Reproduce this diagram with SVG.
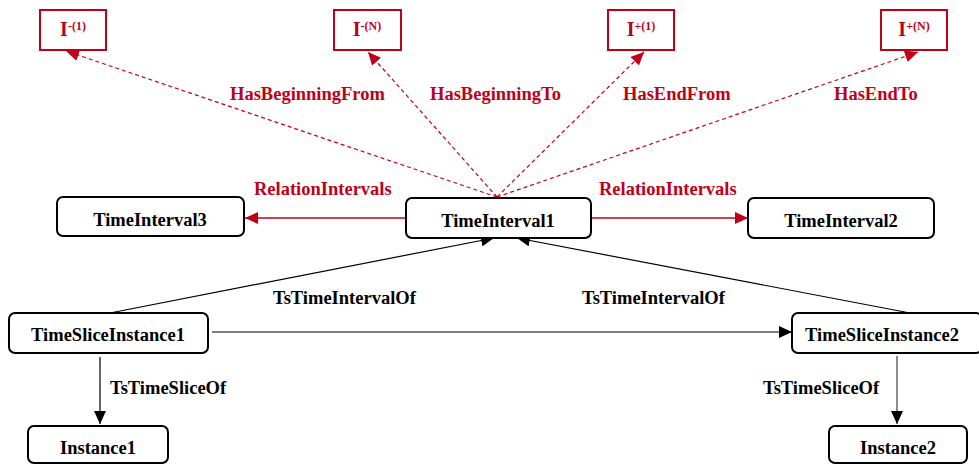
<svg xmlns="http://www.w3.org/2000/svg" width="979" height="464" viewBox="0 0 979 464">
<defs>
<style>
text{font-family:"Liberation Serif","Times New Roman",serif;font-weight:bold;font-size:18.5px}
.node{fill:#fff;stroke:#000;stroke-width:2}
.rbox{fill:#fff;stroke:#c00018;stroke-width:2}
.red{fill:#c00018}
.blk{fill:#000}
.big{font-size:20px}
.lr{stroke:#c00018;stroke-width:1.3;fill:none}
.ld{stroke:#c00018;stroke-width:1.2;fill:none;stroke-dasharray:4 3}
.lb{stroke:#000;stroke-width:1.2;fill:none}
.lg{stroke:#666;stroke-width:1.5;fill:none}
.sup{font-size:12px}
</style>
<marker id="ar" markerUnits="userSpaceOnUse" markerWidth="14" markerHeight="12" refX="13" refY="6" orient="auto"><path d="M0,0 L13,6 L0,12 Z" fill="#c00018"/></marker>
<marker id="ab" markerUnits="userSpaceOnUse" markerWidth="14" markerHeight="12" refX="13" refY="6" orient="auto"><path d="M0,0 L13,6 L0,12 Z" fill="#000"/></marker>
</defs>
<rect width="979" height="464" fill="#fff"/>
<g id="connectors">
<line class="ld" x1="497" y1="197" x2="66" y2="51" marker-end="url(#ar)"/>
<line class="ld" x1="497" y1="197" x2="368" y2="52" marker-end="url(#ar)"/>
<line class="ld" x1="497" y1="197" x2="644" y2="52" marker-end="url(#ar)"/>
<line class="ld" x1="497" y1="197" x2="918" y2="52" marker-end="url(#ar)"/>
<line class="lr" x1="405" y1="218" x2="245" y2="218" marker-end="url(#ar)"/>
<line class="lr" x1="592" y1="218" x2="748" y2="218" marker-end="url(#ar)"/>
<line class="lb" x1="110" y1="313" x2="494" y2="238" marker-end="url(#ab)"/>
<line class="lb" x1="910" y1="313" x2="517" y2="238" marker-end="url(#ab)"/>
<line class="lb" x1="212" y1="332" x2="792" y2="332" marker-end="url(#ab)"/>
<line class="lb" x1="100" y1="357" x2="100" y2="424" marker-end="url(#ab)"/>
<line class="lg" x1="897" y1="356" x2="897" y2="424" marker-end="url(#ab)"/>
<text class="red" x="230" y="100">HasBeginningFrom</text>
<text class="red" x="430" y="100">HasBeginningTo</text>
<text class="red" x="623" y="100">HasEndFrom</text>
<text class="red" x="834" y="100">HasEndTo</text>
<text class="red" x="254" y="195">RelationIntervals</text>
<text class="red" x="599" y="195">RelationIntervals</text>
<text class="blk" x="273" y="304">TsTimeIntervalOf</text>
<text class="blk" x="582" y="304">TsTimeIntervalOf</text>
<text class="blk" x="110" y="394">TsTimeSliceOf</text>
<text class="blk" x="763" y="394">TsTimeSliceOf</text>
</g>
<g id="I-1"><rect class="rbox" x="40" y="10" width="66" height="40"/><text class="red big" x="73" y="36" text-anchor="middle">I<tspan class="sup" dy="-6">-(1)</tspan></text></g>
<g id="I-N"><rect class="rbox" x="334" y="10" width="67" height="40"/><text class="red big" x="367" y="36" text-anchor="middle">I<tspan class="sup" dy="-6">-(N)</tspan></text></g>
<g id="Iplus1"><rect class="rbox" x="608" y="10" width="66" height="40"/><text class="red big" x="641" y="36" text-anchor="middle">I<tspan class="sup" dy="-6">+(1)</tspan></text></g>
<g id="IplusN"><rect class="rbox" x="881" y="10" width="66" height="40"/><text class="red big" x="914" y="36" text-anchor="middle">I<tspan class="sup" dy="-6">+(N)</tspan></text></g>
<g id="TimeInterval3"><rect class="node" x="57" y="197" width="187" height="39" rx="6"/><text class="blk" x="150" y="226" text-anchor="middle">TimeInterval3</text></g>
<g id="TimeInterval1"><rect class="node" x="406" y="198" width="185" height="40" rx="6"/><text class="blk" x="498" y="227" text-anchor="middle">TimeInterval1</text></g>
<g id="TimeInterval2"><rect class="node" x="748" y="198" width="186" height="40" rx="6"/><text class="blk" x="841" y="227" text-anchor="middle">TimeInterval2</text></g>
<g id="TimeSliceInstance1"><rect class="node" x="9" y="313" width="199" height="40" rx="6"/><text class="blk" x="108" y="341" text-anchor="middle">TimeSliceInstance1</text></g>
<g id="TimeSliceInstance2"><rect class="node" x="792" y="313" width="190" height="40" rx="6"/><text class="blk" x="882" y="341" text-anchor="middle">TimeSliceInstance2</text></g>
<g id="Instance1"><rect class="node" x="28" y="426" width="140" height="37" rx="6"/><text class="blk" x="98" y="454" text-anchor="middle">Instance1</text></g>
<g id="Instance2"><rect class="node" x="829" y="426" width="138" height="37" rx="6"/><text class="blk" x="898" y="454" text-anchor="middle">Instance2</text></g>
</svg>
